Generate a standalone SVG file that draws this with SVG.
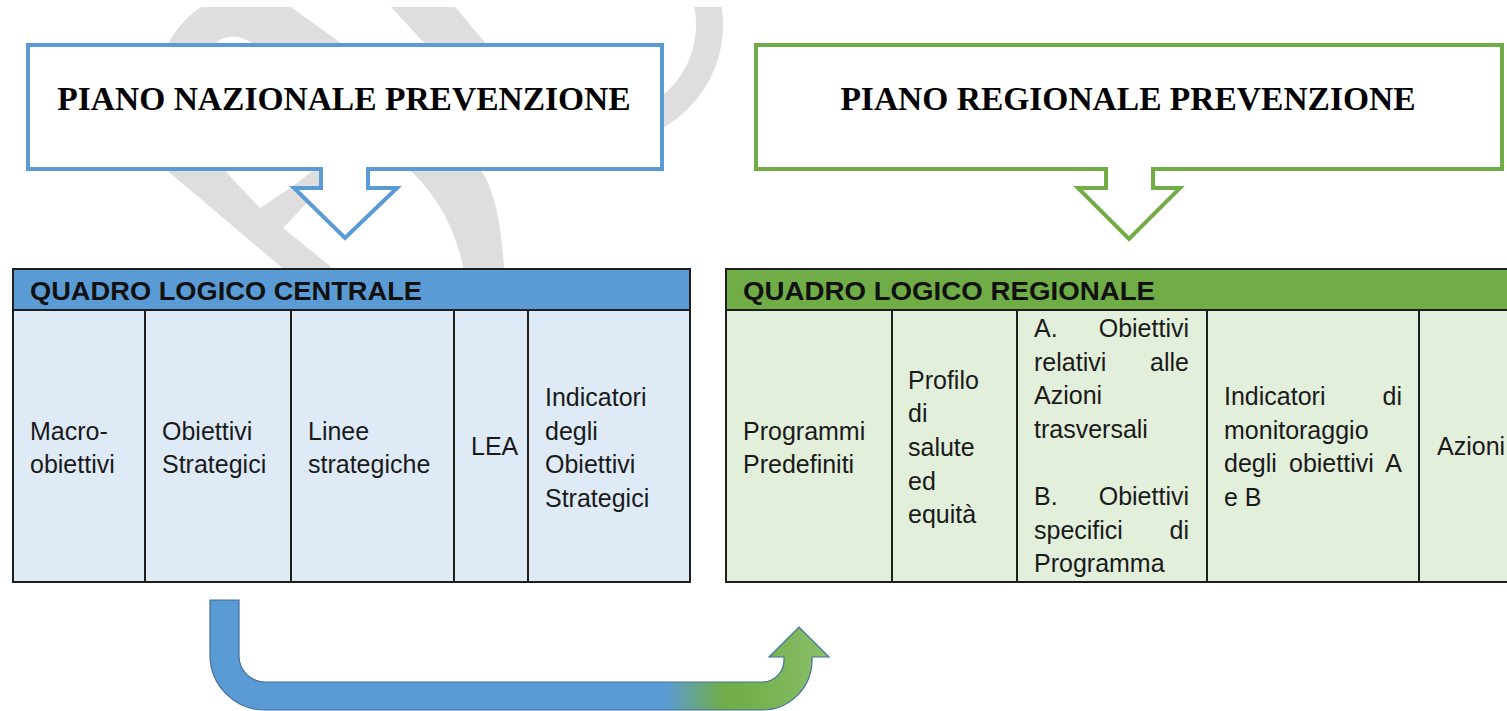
<svg xmlns="http://www.w3.org/2000/svg" width="1507" height="711" viewBox="0 0 1507 711">
  <defs>
    <clipPath id="wmclip"><rect x="0" y="7" width="1507" height="704"/></clipPath>
    <linearGradient id="ugrad" gradientUnits="userSpaceOnUse" x1="210" y1="0" x2="829" y2="0">
      <stop offset="0" stop-color="#5b9bd5"/>
      <stop offset="0.735" stop-color="#5b9bd5"/>
      <stop offset="0.83" stop-color="#70ad47"/>
      <stop offset="0.88" stop-color="#74b04c"/>
      <stop offset="1" stop-color="#8cbf6c"/>
    </linearGradient>
    <style>
      .wm { fill: #dedede; }
      .wmline { fill: none; stroke: #dedede; }
      .callout { fill: #ffffff; stroke-width: 4; }
      .blue { stroke: #5b9bd5; }
      .green { stroke: #70ad47; }
      .title { font-family: "Liberation Serif", "Times New Roman", serif; font-weight: bold; font-size: 33.5px; fill: #000000; text-anchor: middle; }
      .hdr { font-family: "Liberation Sans", Arial, sans-serif; font-weight: bold; font-size: 26px; fill: #111111; }
      .cell { font-family: "Liberation Sans", Arial, sans-serif; font-size: 25px; fill: #1a1a1a; }
      .end { text-anchor: end; }
      .grid { fill: none; stroke: #1e1e1e; stroke-width: 2; }
    </style>
  </defs>

  <rect x="0" y="0" width="1507" height="711" fill="#ffffff"/>

  <g id="watermark" clip-path="url(#wmclip)">
    <path class="wm" d="M 308 290 L 280 266 L 170 173 C 150 150 145 80 170 40 C 190 8 215 -6 250 -6 C 272 -6 285 0 292 8 L 337 40 L 483 173 C 495 195 503 225 505 290 L 463 290 L 463 266 C 455 230 440 200 413 173 L 250 42 C 240 35 225 35 217 42 C 214 90 216 140 227 173 L 260 208 L 293 186 L 320 165 L 350 175 L 307 203 L 283 228 L 330 266 L 340 290 Z"/>
    <path class="wm" d="M 380 -5 L 445 -5 L 500 60 L 440 60 Z"/>
    <path class="wmline" stroke-width="27" d="M 695.5 -27.25 A 104.5 104.5 0 0 1 640.7 123.2"/>
  </g>

  <g id="callout-nazionale">
    <path class="callout blue" d="M 28 45 H 662 V 169 H 368 V 188 H 397 L 345 238 L 294 188 H 321 V 169 H 28 Z"/>
    <text class="title" x="344" y="110">PIANO NAZIONALE PREVENZIONE</text>
  </g>

  <g id="callout-regionale">
    <path class="callout green" d="M 756 45 H 1502 V 169 H 1153 V 188 H 1180 L 1129 239 L 1078 188 H 1106 V 169 H 756 Z"/>
    <text class="title" x="1128" y="110">PIANO REGIONALE PREVENZIONE</text>
  </g>

  <g id="table-centrale">
    <rect x="13" y="269" width="677" height="41" fill="#5b9bd5"/>
    <rect x="13" y="310" width="677" height="272" fill="#deebf7"/>
    <rect class="grid" x="13" y="269" width="677" height="313"/>
    <path class="grid" d="M 13 310 H 690 M 145 310 V 582 M 291 310 V 582 M 454 310 V 582 M 528 310 V 582"/>
    <text class="hdr" x="30" y="300" textLength="392" lengthAdjust="spacingAndGlyphs">QUADRO LOGICO CENTRALE</text>
    <text class="cell" x="30" y="440">Macro-</text>
    <text class="cell" x="30" y="473">obiettivi</text>
    <text class="cell" x="162" y="440">Obiettivi</text>
    <text class="cell" x="162" y="473">Strategici</text>
    <text class="cell" x="308" y="440">Linee</text>
    <text class="cell" x="308" y="473">strategiche</text>
    <text class="cell" x="471" y="455">LEA</text>
    <text class="cell" x="545" y="406">Indicatori</text>
    <text class="cell" x="545" y="440">degli</text>
    <text class="cell" x="545" y="473">Obiettivi</text>
    <text class="cell" x="545" y="507">Strategici</text>
  </g>

  <g id="table-regionale">
    <rect x="726" y="269" width="790" height="41" fill="#70ad47"/>
    <rect x="726" y="310" width="790" height="272" fill="#e2efda"/>
    <path class="grid" d="M 1516 269 H 726 V 582 H 1516 M 726 310 H 1516 M 892 310 V 582 M 1017 310 V 582 M 1207 310 V 582 M 1419 310 V 582"/>
    <text class="hdr" x="743" y="300" textLength="412" lengthAdjust="spacingAndGlyphs">QUADRO LOGICO REGIONALE</text>
    <text class="cell" x="743" y="440">Programmi</text>
    <text class="cell" x="743" y="473">Predefiniti</text>
    <text class="cell" x="908" y="389">Profilo</text>
    <text class="cell" x="908" y="422">di</text>
    <text class="cell" x="908" y="456">salute</text>
    <text class="cell" x="908" y="490">ed</text>
    <text class="cell" x="908" y="523">equità</text>
    <text class="cell" x="1034" y="337">A.</text>
    <text class="cell end" x="1189" y="337">Obiettivi</text>
    <text class="cell" x="1034" y="371">relativi</text>
    <text class="cell end" x="1189" y="371">alle</text>
    <text class="cell" x="1034" y="404">Azioni</text>
    <text class="cell" x="1034" y="438">trasversali</text>
    <text class="cell" x="1034" y="505">B.</text>
    <text class="cell end" x="1189" y="505">Obiettivi</text>
    <text class="cell" x="1034" y="539">specifici</text>
    <text class="cell end" x="1189" y="539">di</text>
    <text class="cell" x="1034" y="572">Programma</text>
    <text class="cell" x="1224" y="405">Indicatori</text>
    <text class="cell end" x="1402" y="405">di</text>
    <text class="cell" x="1224" y="439">monitoraggio</text>
    <text class="cell" x="1224" y="472">degli</text>
    <text class="cell" x="1289" y="472">obiettivi</text>
    <text class="cell end" x="1402" y="472">A</text>
    <text class="cell" x="1224" y="506">e B</text>
    <text class="cell" x="1437" y="455">Azioni</text>
  </g>

  <g id="connectors">
    <path id="u-arrow" fill="url(#ugrad)" stroke="#41719c" stroke-width="1.2" d="M 210 600 H 239 V 656 A 26 26 0 0 0 265 682 H 762 A 22 22 0 0 0 784 660 V 657 H 769 L 799 627 L 829 657 H 812 V 660 A 50 50 0 0 1 762 710 H 265 A 55 55 0 0 1 210 655 Z"/>
  </g>
</svg>
